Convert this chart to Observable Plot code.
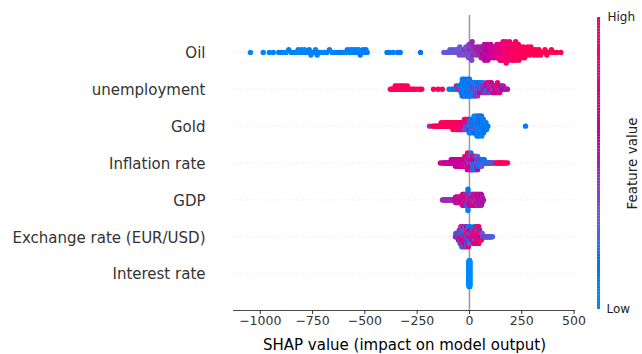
<!DOCTYPE html>
<html>
<head>
<meta charset="utf-8">
<script src="https://cdn.jsdelivr.net/npm/d3@7"></script>
<script src="https://cdn.jsdelivr.net/npm/@observablehq/plot@0.6"></script>
<style>
  html, body { margin: 0; padding: 0; background: #fff; }
  #wrap { position: relative; width: 642px; height: 354px; overflow: hidden; }
</style>
</head>
<body>
<div id="wrap"></div>
<script>
// Feature rows, top to bottom, and axis text
const features = ["Oil", "unemployment", "Gold", "Inflation rate", "GDP", "Exchange rate (EUR/USD)", "Interest rate"];
const xTicks = [-1000, -750, -500, -250, 0, 250, 500];
const xLabel = "SHAP value (impact on model output)";
const colorLabels = ["Low", "High"];
const colorTitle = "Feature value";

// Each observation: [SHAP value, normalised feature value 0..1]
const oil = [
  [-1047,.03],[-986,.05],[-957,.02],[-938,.06],[-912,.04],[-901,.08],[-888,.03],[-876,.05],[-864,.07],[-852,.02],
  [-840,.06],[-830,.04],[-819,.09],[-812,.03],[-803,.05],[-797,.07],[-788,.02],[-783,.06],[-772,.04],[-766,.08],
  [-758,.05],[-751,.03],[-742,.07],[-736,.04],[-728,.06],[-719,.09],[-707,.05],[-694,.03],[-682,.08],[-669,.06],
  [-657,.04],[-644,.07],[-631,.05],[-619,.10],[-606,.06],[-594,.04],[-584,.08],[-575,.05],[-569,.09],[-562,.07],
  [-556,.04],[-549,.10],[-543,.06],[-535,.08],[-530,.05],[-522,.11],[-516,.07],[-509,.09],[-503,.06],[-495,.12],
  [-489,.08],[-394,.10],[-381,.12],[-364,.09],[-343,.11],[-331,.13],[-234,.15],
  [-122,.30],[-108,.28],[-102,.35],[-93,.32],[-87,.25],[-78,.36],[-72,.30],[-63,.33],[-60,.40],[-57,.27],
  [-49,.35],[-46,.30],[-43,.42],[-41,.28],[-34,.38],[-30,.33],[-26,.45],[-19,.36],[-17,.30],[-14,.42],
  [-12,.38],[-9,.33],[-6,.40],[-4,.35],[-2,.45],[0,.32],[1,.48],[3,.38],[5,.42],[7,.36],
  [9,.46],[11,.40],[13,.50],[15,.38],[17,.44],[19,.48],[26,.50],[29,.45],[32,.52],[34,.47],
  [41,.52],[44,.48],[47,.55],[49,.50],[54,.55],[56,.50],[59,.58],[61,.53],[63,.60],[65,.56],
  [69,.58],[71,.54],[73,.62],[75,.57],[77,.60],[79,.55],[81,.63],[84,.60],[86,.64],[88,.57],
  [90,.66],[92,.61],[94,.68],[96,.63],[100,.65],[102,.62],[104,.70],[107,.66],[109,.72],[111,.64],
  [115,.70],[118,.67],[120,.74],[123,.69],[125,.72],[129,.72],[131,.76],[133,.70],[135,.78],[137,.73],
  [139,.75],[141,.80],[144,.76],[146,.80],[148,.74],[150,.82],[152,.78],[154,.84],[156,.77],[157,.81],
  [159,.80],[161,.85],[163,.78],[164,.83],[166,.87],[167,.81],[169,.84],[171,.79],[172,.86],[174,.84],
  [176,.88],[178,.82],[180,.86],[182,.90],[184,.85],[185,.88],[187,.83],[190,.87],[192,.91],[194,.86],
  [196,.89],[198,.92],[200,.88],[201,.90],[204,.90],[206,.93],[208,.88],[210,.92],[212,.95],[213,.89],
  [215,.94],[216,.91],[219,.92],[221,.95],[223,.90],[225,.96],[227,.93],[229,.97],[231,.94],[234,.95],
  [236,.97],[239,.93],[241,.98],[243,.96],[245,.94],[249,.96],[252,.98],[255,.95],[257,.99],[259,.97],
  [264,.97],[267,.99],[270,.96],[273,.98],[279,.98],[282,.96],[285,1],[288,.97],[294,.99],[298,.97],
  [302,1],[309,.98],[313,1],[317,.99],[324,1],[328,.98],[332,.99],[340,1],[346,.98],[356,.99],
  [361,1],[370,1],[376,.99],[386,1],[392,.98],[403,1],[418,1],[437,1]
];

const unemployment = [
  [-378,.95],[-372,.98],[-366,.92],[-362,1],[-358,.96],[-355,.93],[-351,.99],[-348,.95],[-344,.91],[-341,.97],
  [-337,1],[-334,.94],[-330,.96],[-327,.92],[-323,.98],[-320,.95],[-316,1],[-313,.93],[-309,.97],[-305,.95],
  [-301,.99],[-297,.92],[-292,.96],[-286,.94],[-279,.98],[-270,.95],[-262,.97],[-250,.93],[-238,.96],[-228,.99],
  [-172,.95],[-150,.93],[-130,.97],
  [-97,.12],[-84,.08],[-75,.15],[-66,.10],[-62,.90],[-58,.06],[-55,.93],[-52,.14],[-49,.09],[-46,.18],[-43,.88],[-41,.05],
  [-40,.12],[-39,.07],[-38,.16],[-37,.04],[-36,.20],[-35,.10],[-34,.08],[-33,.14],[-32,.03],
  [-31,.13],[-30,.06],[-29,.18],[-28,.09],[-27,.03],[-26,.15],[-25,.11],[-24,.07],[-23,.22],[-22,.05],
  [-21,.10],[-20,.05],[-19,.14],[-18,.08],[-17,.19],[-16,.04],[-15,.12],[-14,.16],[-13,.06],[-12,.25],[-11,.09],
  [-10,.09],[-9,.13],[-8,.05],[-7,.17],[-6,.11],[-5,.02],[-4,.15],[-3,.08],[-2,.20],[-1,.06],[0,.10],
  [1,.12],[2,.28],[3,.07],[4,.15],[5,.10],[6,.35],[7,.04],[8,.18],[9,.12],
  [11,.09],[12,.40],[13,.16],[14,.07],[16,.30],[17,.13],[18,.45],[19,.10],
  [21,.20],[22,.08],[23,.42],[25,.14],[26,.35],[27,.06],[28,.48],[29,.17],
  [31,.11],[33,.38],[34,.22],[35,.09],[37,.50],[38,.15],[39,.44],
  [41,.19],[42,.52],[44,.08],[45,.40],[46,.25],[48,.55],[49,.13],
  [51,.46],[52,.18],[54,.58],[55,.10],[57,.42],[59,.30],
  [61,.62],[62,.15],[64,.48],[65,.85],[67,.22],[69,.55],
  [71,.40],[72,.12],[74,.66],[75,.50],[77,.90],[79,.20],
  [81,.58],[82,.35],[84,.72],[85,.14],[87,.52],[89,.80],
  [91,.45],[92,.68],[94,.18],[95,.92],[97,.55],[99,.38],
  [101,.75],[102,.50],[104,.22],[105,.62],[107,.95],[109,.44],
  [111,.70],[113,.30],[115,.58],[117,.88],[119,.48],
  [121,.92],[122,.55],[124,.80],[125,.18],[127,.97],[129,.65],
  [131,.95],[132,.60],[134,.85],[135,.42],[137,1],[139,.72],
  [141,.90],[143,.55],[145,.78],[147,.35],[149,.62],
  [152,.58],[155,.50],[158,.65],[162,.52],[167,.60],[172,.55],[177,.48],[182,.56]
];

const gold = [
  [-191,.45],[-176,.92],[-168,.95],[-163,.90],[-157,.97],[-152,.93],[-148,.99],[-144,.91],[-141,.96],
  [-138,.94],[-135,1],[-132,.92],[-128,.97],[-125,.90],[-122,.95],[-119,.93],[-116,.98],[-113,.91],[-111,.96],
  [-108,.94],[-105,.99],[-102,.92],[-100,.97],[-98,.90],[-95,.95],[-93,.98],[-91,.93],
  [-89,.96],[-87,.91],[-85,.99],[-83,.94],[-81,.97],[-79,.92],[-77,.95],[-75,1],[-73,.90],[-71,.96],
  [-69,.93],[-67,.98],[-65,.91],[-63,.95],[-61,.97],[-59,.90],[-57,.94],[-56,.99],[-54,.92],[-52,.96],[-51,.88],
  [-49,.93],[-47,.97],[-46,.85],[-44,.91],[-42,.95],[-41,.80],
  [-39,.94],[-38,.70],[-36,.90],[-35,.98],[-33,.75],[-32,.92],[-31,.60],
  [-29,.88],[-28,.55],[-27,.95],[-25,.40],[-24,.85],[-23,.65],[-21,.92],[-20,.30],
  [-19,.80],[-18,.25],[-17,.90],[-15,.50],[-14,.20],[-13,.85],[-12,.35],[-11,.95],
  [-9,.15],[-8,.70],[-7,.22],[-6,.88],[-5,.12],[-4,.45],[-3,.18],[-2,.92],[-1,.10],
  [0,.28],[1,.08],[2,.60],[3,.14],[4,.05],[5,.35],[7,.10],[8,.20],[9,.07],
  [10,.16],[11,.04],[12,.30],[13,.09],[14,.12],[15,.40],[16,.06],[17,.18],[18,.11],[19,.03],[20,.25],
  [21,.08],[22,.14],[22,.05],[23,.20],[24,.10],[25,.32],[26,.07],[26,.15],[27,.03],[28,.12],[29,.22],[29,.06],[30,.10],
  [31,.18],[32,.05],[32,.12],[33,.28],[34,.08],[35,.15],[35,.03],[36,.10],[37,.20],[37,.06],[38,.13],[39,.09],[39,.25],[40,.04],
  [41,.11],[42,.16],[42,.07],[43,.22],[44,.05],[45,.14],[45,.09],[46,.30],[47,.12],[47,.04],[48,.18],[49,.08],[49,.15],[50,.06],
  [51,.20],[52,.10],[52,.04],[53,.14],[54,.26],[55,.08],[55,.12],[56,.05],[57,.18],[58,.09],[58,.15],[59,.03],[60,.11],
  [61,.16],[62,.07],[63,.22],[64,.10],[65,.05],[66,.14],[67,.09],[68,.19],[69,.06],[70,.12],
  [72,.08],[73,.15],[75,.05],[76,.18],[78,.10],[79,.07],[82,.12],[85,.06],[88,.14],
  [268,.10]
];

const inflation = [
  [-139,.62],[-128,.68],[-122,.60],[-117,.65],[-112,.70],[-108,.63],[-105,.58],[-101,.67],[-98,.64],[-94,.69],[-91,.61],
  [-89,.66],[-87,.60],[-85,.70],[-83,.63],[-81,.68],
  [-79,.67],[-78,.62],[-76,.72],[-74,.59],[-73,.65],[-71,.69],
  [-69,.64],[-68,.68],[-67,.61],[-65,.70],[-64,.63],[-62,.66],[-61,.60],
  [-59,.62],[-58,.69],[-57,.65],[-56,.60],[-54,.71],[-53,.64],[-52,.67],[-51,.59],
  [-49,.63],[-48,.68],[-47,.58],[-46,.66],[-45,.72],[-44,.61],[-43,.65],[-42,.69],[-41,.62],
  [-39,.64],[-38,.60],[-37,.70],[-36,.66],[-35,.62],[-34,.85],[-33,.67],[-32,.63],[-31,.68],[-30,.60],
  [-29,.65],[-28,.71],[-27,.60],[-26,.92],[-25,.66],[-24,.63],[-23,.69],[-22,.88],[-21,.64],[-20,.61],
  [-19,.67],[-18,.95],[-17,.62],[-16,.70],[-15,.40],[-14,.65],[-13,.90],[-12,.60],[-12,.68],[-11,.35],[-10,.72],[-10,.64],
  [-9,.92],[-8,.66],[-8,.30],[-7,.62],[-6,.85],[-5,.68],[-5,.20],[-4,.95],[-3,.63],[-2,.45],[-2,.70],[-1,.60],[0,.88],
  [1,.25],[1,.66],[2,.92],[3,.40],[3,.63],[4,.15],[5,.72],[5,.98],[6,.35],[7,.65],[7,.10],[8,.90],[9,.50],[9,.62],
  [11,.20],[11,.75],[12,.64],[13,.95],[13,.30],[14,.12],[15,.68],[15,.45],[16,.90],[17,.22],[17,.60],[18,.08],[19,.55],[19,.88],
  [21,.15],[21,.66],[22,.35],[23,.93],[23,.10],[24,.55],[25,.70],[25,.18],[26,.40],[27,.05],[27,.62],[28,.28],[29,.86],[29,.12],
  [31,.20],[32,.60],[32,.08],[33,.38],[34,.15],[35,.70],[35,.25],[36,.05],[37,.45],[38,.12],[39,.30],[39,.62],
  [41,.10],[42,.35],[43,.18],[44,.55],[45,.06],[46,.28],[47,.40],[48,.14],[49,.22],[50,.48],
  [52,.12],[53,.30],[55,.08],[56,.40],[57,.18],[58,.35],[60,.10],
  [62,.25],[64,.12],[65,.38],[67,.06],[69,.30],[71,.15],[74,.28],[76,.08],[79,.35],
  [82,.20],[85,.10],[88,.32],[91,.25],[94,.12],[97,.38],[103,.15],[107,.30],[112,.42],[118,.20],
  [126,.90],[132,.95],[138,.92],[143,.97],[148,.93],[153,.96],[158,.99],[165,.94],[173,.97],[182,.95]
];

const gdp = [
  [-129,.48],[-125,.45],[-121,.50],[-117,.46],[-113,.49],[-109,.44],[-105,.47],[-101,.52],[-97,.46],[-93,.50],
  [-89,.48],[-85,.44],[-81,.51],[-77,.47],[-73,.55],[-70,.50],
  [-67,.52],[-67,.64],[-67,.48],[-65,.58],[-63,.68],[-63,.50],[-63,.62],[-61,.55],[-59,.66],[-59,.57],[-59,.74],
  [-57,.50],[-55,.63],[-55,.72],[-55,.54],[-53,.60],[-51,.68],[-51,.55],[-51,.80],[-49,.62],[-47,.65],[-47,.90],
  [-47,.52],[-45,.58],[-43,.72],[-43,.63],[-43,.92],[-41,.57],[-39,.80],[-39,.66],[-39,.60],[-37,.70],[-35,.64],
  [-35,.95],[-35,.58],
  [-33,.66],[-33,.90],[-33,.52],[-33,.78],[-33,.62],[-31,.50],[-31,.92],
  [-29,.68],[-29,.56],[-29,.95],[-29,.64],[-29,.50],[-27,.82],[-27,.60],
  [-25,.68],[-25,.54],[-25,.93],[-25,.74],[-25,.60],[-23,.45],[-23,.90],
  [-21,.66],[-21,.52],[-21,.97],[-21,.58],[-21,.80],[-19,.20],[-19,.72],
  [-17,.92],[-17,.56],[-17,.64],[-17,.48],[-17,.82],[-15,.15],[-15,.68],
  [-13,.95],[-13,.62],[-13,.76],[-13,.54],[-13,.12],[-11,.64],[-11,.90],
  [-9,.10],[-9,.78],[-9,.52],[-9,.72],[-9,.58],
  [-7,.05],[-7,.12],[-7,.07],[-7,.10],[-7,.03],[-7,.09],[-7,.06],[-7,.14],[-7,.08],
  [-5,.90],[-5,.54],[-3,.25],[-3,.74],[-3,.62],[-3,.94],[-3,.48],[-1,.70],[-1,.12],
  [1,.82],[1,.58],[1,.98],[1,.45],[1,.64],[3,.78],[3,.22],
  [5,.54],[5,.92],[5,.62],[5,.40],[5,.72],[7,.95],[7,.15],
  [9,.60],[9,.80],[9,.50],[9,.90],[9,.68],[11,.30],[11,.62],
  [13,.96],[13,.52],[13,.76],[13,.20],[13,.66],[15,.93],[15,.56],
  [17,.48],[17,.70],[17,.82],[17,.35],[17,.60],[19,.92],[19,.74],
  [21,.18],[21,.64],[21,.95],[21,.54],[21,.78],[23,.45],[23,.90],
  [25,.58],[25,.68],[25,.28],[25,.80],[25,.62],[27,.97],[27,.50],
  [29,.72],[29,.40],[29,.82],[29,.60],[29,.92],[31,.22],[31,.66],
  [33,.54],[33,.78],[33,.95],[33,.48],[33,.64],[35,.58],[35,.82],
  [37,.35],[37,.70],[37,.52],[37,.60],[37,.92],[39,.66],[39,.54],
  [41,.48],[41,.64],[41,.58],[41,.82],[41,.45],[43,.60],[43,.52],
  [45,.56],[45,.66],[45,.50],[45,.60],[45,.54],[47,.62],[47,.48],
  [49,.52],[49,.58],[49,.64],[49,.50],[49,.56],[51,.60],[51,.50],
  [53,.54],[53,.62],[53,.52],[53,.58],[53,.56],[55,.50],[55,.62],
  [57,.58],[57,.52],[57,.56],[57,.62],[57,.50],[59,.54],[59,.60],
  [61,.56],[61,.52],[61,.58],[64,.54],[67,.56]
];

const exchange = [
  [-67,.15],[-65,.45],[-65,.85],[-63,.20],[-61,.70],[-61,.10],[-59,.55],[-57,.92],[-57,.30],[-55,.12],[-55,.65],
  [-53,.80],[-53,.40],[-53,.18],[-51,.95],[-51,.25],[-51,.60],
  [-49,.10],[-49,.88],[-49,.52],[-49,.30],[-47,.75],[-47,.20],
  [-45,.92],[-45,.45],[-45,.15],[-45,.68],[-45,.05],[-43,.35],[-43,.82],
  [-41,.60],[-41,.12],[-41,.95],[-41,.40],[-41,.25],[-41,.78],[-39,.50],[-39,.08],
  [-37,.88],[-37,.30],[-37,.65],[-37,.18],[-37,.97],[-37,.42],[-37,.10],[-35,.72],[-35,.22],
  [-33,.15],[-33,.90],[-33,.55],[-33,.35],[-33,.80],[-31,.62],[-31,.05],
  [-29,.95],[-29,.28],[-29,.70],[-29,.12],[-29,.48],[-29,.85],[-29,.20],[-27,.40],[-27,.75],
  [-25,.08],[-25,.92],[-25,.58],[-25,.30],[-25,.66],[-23,.82],[-23,.18],[-23,.45],
  [-21,.98],[-21,.35],[-21,.62],[-21,.10],[-21,.75],[-21,.25],[-21,.88],[-19,.52],[-19,.15],
  [-17,.70],[-17,.40],[-17,.93],[-17,.05],[-17,.60],[-15,.28],[-15,.85],
  [-13,.12],[-13,.78],[-13,.50],[-13,.95],[-13,.32],[-13,.65],[-13,.20],[-11,.45],[-11,.90],
  [-9,.08],[-9,.58],[-9,.82],[-9,.30],[-9,.72],[-7,.96],[-7,.22],
  [-5,.38],[-5,.68],[-5,.14],[-5,.88],[-5,.55],[-5,.03],[-5,.76],[-3,.62],[-3,.25],
  [-1,.92],[-1,.48],[-1,.10],[-1,.80],[-1,.35],[1,.18],[1,.70],
  [3,.85],[3,.42],[3,.95],[3,.60],[3,.28],[3,.12],[5,.52],[5,.90],
  [7,.75],[7,.33],[7,.08],[7,.65],[9,.88],[9,.45],
  [11,.70],[11,.15],[11,.92],[13,.55],[13,.85],[15,.40],[15,.95],[15,.62],[15,.20],[17,.80],[17,.68],
  [19,.93],[19,.35],[19,.72],
  [21,.90],[21,.65],[21,.98],[21,.48],[21,.82],[21,.20],[23,.75],[23,.95],
  [25,.60],[25,.88],[25,.30],[25,.97],[25,.70],[27,.85],[27,.52],
  [29,.98],[29,.72],[29,.40],[29,.92],[29,.62],[29,.15],[31,.80],[31,.94],
  [33,.68],[33,.90],[33,.55],[33,.99],[33,.78],[35,.45],[35,.86],
  [37,.95],[37,.70],[37,.88],[37,.25],[37,.62],[37,.92],[39,.78],[39,.58],
  [41,.90],[41,.40],[41,.96],[41,.72],[41,.85],[43,.65],[43,.98],
  [45,.82],[45,.55],[45,.93],[45,.35],[45,.75],[45,.88],[47,.70],[47,.95],
  [49,.60],[49,.85],[49,.92],[49,.50],[51,.78],[51,.40],
  [53,.90],[53,.65],[53,.97],[55,.55],[55,.82],[57,.72],[57,.45],[57,.88],[59,.62],[61,.80],[61,.35],
  [64,.30],[67,.45],[70,.20],[73,.55],[76,.35],[79,.25],[82,.50],[85,.15],[88,.40],[91,.28],
  [94,.45],[97,.18],[100,.35],[103,.22],[106,.40],[110,.25]
];

// The interest rate is constant over the sample, so every SHAP value is zero
const interest = [
  [0,0],[0,0],[0,0],[0,0],[0,0],[0,0],[0,0],[0,0],[0,0],[0,0],[0,0],[0,0],[0,0],[0,0],[0,0],[0,0],[0,0],[0,0],[0,0],[0,0],
  [0,0],[0,0],[0,0],[0,0],[0,0],[0,0],[0,0],[0,0],[0,0],[0,0],[0,0],[0,0],[0,0],[0,0],[0,0],[0,0],[0,0],[0,0],[0,0],[0,0],
  [0,0],[0,0],[0,0],[0,0],[0,0],[0,0],[0,0],[0,0],[0,0],[0,0],[0,0],[0,0],[0,0],[0,0],[0,0],[0,0],[0,0],[0,0],[0,0],[0,0],
  [0,0],[0,0],[0,0],[0,0],[0,0],[0,0],[0,0],[0,0],[0,0],[0,0],[0,0],[0,0],[0,0],[0,0],[0,0],[0,0],[0,0],[0,0],[0,0],[0,0],
  [0,0],[0,0],[0,0],[0,0],[0,0],[0,0],[0,0],[0,0],[0,0],[0,0],[0,0],[0,0],[0,0],[0,0],[0,0],[0,0],[0,0],[0,0],[0,0],[0,0],
  [0,0],[0,0],[0,0],[0,0],[0,0],[0,0],[0,0],[0,0],[0,0],[0,0],[0,0],[0,0],[0,0],[0,0],[0,0],[0,0],[0,0],[0,0],[0,0],[0,0],
  [0,0],[0,0],[0,0],[0,0],[0,0],[0,0],[0,0],[0,0],[0,0],[0,0],[0,0],[0,0],[0,0],[0,0],[0,0],[0,0],[0,0],[0,0],[0,0],[0,0],
  [0,0],[0,0],[0,0],[0,0],[0,0],[0,0],[0,0],[0,0],[0,0],[0,0],[0,0],[0,0],[0,0],[0,0],[0,0],[0,0],[0,0],[0,0],[0,0],[0,0],
  [0,0],[0,0],[0,0],[0,0],[0,0],[0,0],[0,0],[0,0],[0,0],[0,0],[0,0],[0,0],[0,0],[0,0],[0,0],[0,0],[0,0],[0,0],[0,0],[0,0],
  [0,0],[0,0],[0,0],[0,0],[0,0],[0,0],[0,0],[0,0],[0,0],[0,0],[0,0],[0,0],[0,0],[0,0],[0,0],[0,0],[0,0],[0,0],[0,0],[0,0]
];

const series = [oil, unemployment, gold, inflation, gdp, exchange, interest];

// Beeswarm layout: quantise a row into 100 bins and stack points of a bin
// alternately above and below the row line, scaled to 0.36 of a row.
function swarmOffsets(values) {
  const lo = d3.min(values), hi = d3.max(values);
  const quant = values.map(v => Math.round(100 * (v - lo) / (hi - lo + 1e-8)));
  const order = d3.range(values.length).sort((a, b) => quant[a] - quant[b] || a - b);
  const layers = new Array(values.length).fill(0);
  let layer = 0, last = -1;
  for (const i of order) {
    if (quant[i] !== last) layer = 0;
    layers[i] = Math.ceil(layer / 2) * ((layer % 2) * 2 - 1);
    layer++;
    last = quant[i];
  }
  const k = 0.9 * 0.4 / d3.max(layers, l => l + 1);
  return layers.map(l => l * k);
}

const points = series.flatMap((rows, i) => {
  const offsets = swarmOffsets(rows.map(d => d[0]));
  return rows.map((d, j) => ({feature: features[i], shap: d[0], value: d[1], y: i - offsets[j]}));
});

// Blue-to-red ramp interpolated in CIE LCh; lightness dips to 40 in the middle
function redBlue(t) {
  const L = t < 0.5 ? 54 - 28 * t : 40 + 28 * (t - 0.5);
  const C = 70 + 20 * t;
  const H = 4.6588 + (0.35470565 + 2 * Math.PI - 4.6588) * t;
  const a = C * Math.cos(H), b = C * Math.sin(H);
  const fy = (L + 16) / 116, fx = fy + a / 500, fz = fy - b / 200;
  const f = u => u > 6 / 29 ? u * u * u : 3 * (6 / 29) ** 2 * (u - 4 / 29);
  const X = 0.95047 * f(fx), Y = f(fy), Z = 1.08883 * f(fz);
  const lin = [
    3.2406 * X - 1.5372 * Y - 0.4986 * Z,
    -0.9689 * X + 1.8758 * Y + 0.0415 * Z,
    0.0557 * X - 0.2040 * Y + 1.0570 * Z
  ];
  const [r, g, bl] = lin.map(c => {
    c = Math.max(0, Math.min(1, c));
    return Math.round(255 * (c > 0.0031308 ? 1.055 * Math.pow(c, 1 / 2.4) - 0.055 : 12.92 * c));
  });
  return `rgb(${r},${g},${bl})`;
}

const font = "'DejaVu Sans', 'Liberation Sans', sans-serif";

const chart = Plot.plot({
  width: 642,
  height: 354,
  marginTop: 15,
  marginRight: 67,
  marginBottom: 44,
  marginLeft: 233,
  style: {fontFamily: font, color: "#333", background: "white"},
  x: {domain: [-1128, 507]},
  y: {domain: [7, -1]},
  color: {type: "linear", domain: [0, 1], interpolate: redBlue},
  marks: [
    Plot.ruleY(d3.range(features.length), {stroke: "#ccc", strokeWidth: 0.7, strokeDasharray: "0.7,2.8"}),
    Plot.ruleX([0], {stroke: "#999", strokeWidth: 1.5}),
    Plot.dot(points, {x: "shap", y: "y", r: 2.7, fill: "value"}),
    Plot.ruleY([7], {stroke: "#333", strokeWidth: 0.9}),
    Plot.axisX({ticks: xTicks, tickFormat: d3.format("d"), tickSize: 4, tickPadding: 2, fontSize: 12.5, label: null}),
    Plot.axisY({ticks: d3.range(features.length), tickFormat: i => features[i], tickSize: 0, tickPadding: 28, dy: 1, fontSize: 15, label: null}),
    Plot.text([xLabel], {frameAnchor: "bottom", lineAnchor: "middle", dy: 35, fontSize: 15, fill: "black"})
  ]
});

// Colour bar for the feature value
const rampSteps = d3.range(0, 1, 0.01);
const bar = Plot.plot({
  width: 62,
  height: 354,
  marginTop: 17,
  marginBottom: 45,
  marginLeft: 0,
  marginRight: 0,
  style: {fontFamily: font, color: "#222", background: "transparent"},
  x: {domain: [0, 1], range: [17, 20], axis: null},
  y: {domain: [0, 1], axis: null},
  color: {type: "linear", domain: [0, 1], interpolate: redBlue},
  marks: [
    Plot.rect(rampSteps, {x1: 0, x2: 1, y1: d => d, y2: d => Math.min(1, d + 0.0105), fill: d => d + 0.005}),
    Plot.text([colorLabels[1]], {x: 1, y: 1, dx: 7, textAnchor: "start", fontSize: 12}),
    Plot.text([colorLabels[0]], {x: 1, y: 0, dx: 6, textAnchor: "start", fontSize: 12}),
    Plot.text([colorTitle], {x: 1, y: 0.5, dx: 32, rotate: -90, fontSize: 13.5})
  ]
});
bar.style.position = "absolute";
bar.style.left = "580px";
bar.style.top = "0px";

const wrap = document.getElementById("wrap");
wrap.appendChild(chart);
wrap.appendChild(bar);
</script>
</body>
</html>
